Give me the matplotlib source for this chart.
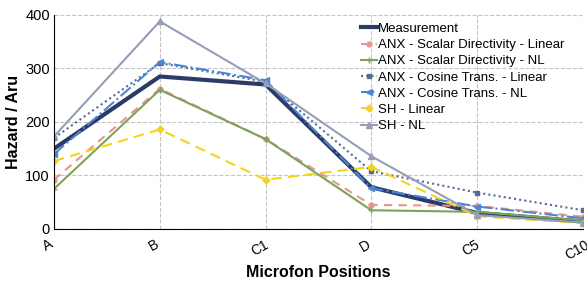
import matplotlib.pyplot as plt
from matplotlib.transforms import ScaledTranslation

plt.rcParams['font.family'] = ['Liberation Sans', 'DejaVu Sans']

positions = ["A", "B", "C1", "D", "C5", "C10"]

measurement = [150, 285, 270, 78, 30, 14]
scalar_linear = [92, 262, 168, 45, 43, 23]
scalar_nl = [75, 260, 168, 35, 32, 16]
cosine_linear = [170, 310, 275, 108, 68, 35]
cosine_nl = [140, 312, 278, 76, 42, 20]
sh_linear = [127, 186, 92, 116, 24, 11]
sh_nl = [173, 388, 272, 136, 26, 12]

fig = plt.figure(figsize=(5.87, 2.82), dpi=100)
ax = fig.add_axes([0.092, 0.188, 0.901, 0.759])

x = list(range(len(positions)))

ax.plot(x, measurement, color="#2b3a67", lw=3, label="Measurement")
ax.plot(x, scalar_linear, color="#e8958a", lw=1.5, ls=(0, (4, 3)), marker="o", ms=3.5, label="ANX - Scalar Directivity - Linear")
ax.plot(x, scalar_nl, color="#7ca35a", lw=1.5, marker="+", ms=4, label="ANX - Scalar Directivity - NL")
ax.plot(x, cosine_linear, color="#5a6a94", lw=1.5, ls=(0, (1, 1.5)), marker="s", ms=3.5, label="ANX - Cosine Trans. - Linear")
ax.plot(x, cosine_nl, color="#4a86d8", lw=1.5, ls="-.", marker="<", ms=4.5, label="ANX - Cosine Trans. - NL")
ax.plot(x, sh_linear, color="#f5d31a", lw=1.5, ls=(0, (5, 3)), marker="D", ms=3.5, label="SH - Linear")
ax.plot(x, sh_nl, color="#959db8", lw=1.5, marker="^", ms=4.5, label="SH - NL")

ax.set_xlim(0, 5)
ax.set_ylim(0, 400)
ax.set_yticks([0, 100, 200, 300, 400])
ax.set_xticks(x)
ax.set_xticklabels(positions, rotation=30, ha="center", va="top", fontsize=10)
ax.tick_params(axis="y", labelsize=10.5, length=0, pad=3)
ax.tick_params(axis="x", length=0, pad=6)
shift = ScaledTranslation(-6 / 100, 0, fig.dpi_scale_trans)
for lab in ax.get_xticklabels():
    lab.set_transform(lab.get_transform() + shift)

ax.grid(True, ls="--", color="#c4c4c4", lw=0.8)
ax.set_axisbelow(True)
for s in ["top", "right"]:
    ax.spines[s].set_visible(False)

ax.set_xlabel("Microfon Positions", fontsize=11.5, fontweight="bold", labelpad=2)
ax.set_ylabel("Hazard / Aru", fontsize=11.5, fontweight="bold", labelpad=3)

ax.legend(loc="upper left", bbox_to_anchor=(0.565, 1.0), frameon=False, fontsize=9.5,
          handlelength=1.2, handletextpad=0.1, labelspacing=0.3, borderaxespad=0.2)

plt.savefig("out.png", dpi=100)
